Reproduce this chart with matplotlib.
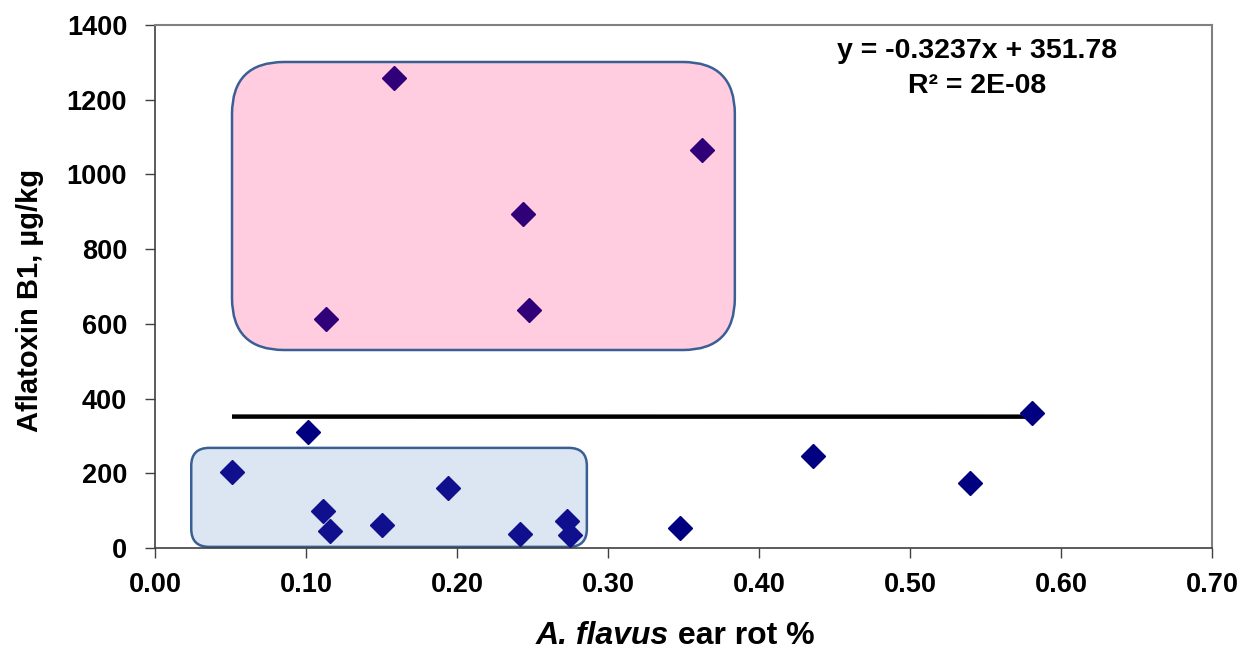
import matplotlib
matplotlib.use("Agg")
import matplotlib.pyplot as plt
from matplotlib.patches import FancyBboxPatch
from matplotlib.offsetbox import TextArea, HPacker, AnchoredOffsetbox

# ---- data ----
x_high = [0.113, 0.158, 0.244, 0.248, 0.362]
y_high = [613, 1258, 894, 637, 1065]
x_low = [0.051, 0.111, 0.116, 0.150, 0.194, 0.242, 0.273, 0.275]
y_low = [203, 99, 45, 62, 161, 37, 72, 35]
x_other = [0.101, 0.348, 0.436, 0.540, 0.581]
y_other = [310, 54, 246, 174, 361]
slope, intercept = -0.3237, 351.78
trend_x = [0.051, 0.581]
eq_text = "y = -0.3237x + 351.78"
r2_text = "R² = 2E-08"
xticks = [0.0, 0.1, 0.2, 0.3, 0.4, 0.5, 0.6, 0.7]
yticks = [0, 200, 400, 600, 800, 1000, 1200, 1400]
box_high = (0.051, 530, 0.384, 1301)
box_low = (0.024, 3, 0.286, 268)

base = "Liberation Sans"

fig = plt.figure(figsize=(12.41, 6.56), dpi=100)
ax = fig.add_axes([155/1241, 1-548/656, (1212-155)/1241, (548-25)/656])
ax.set_xlim(0, 0.7)
ax.set_ylim(0, 1400)

# aspect for rounded corners
fig.canvas.draw()
p0 = ax.transData.transform((0, 0))
p1 = ax.transData.transform((1, 1))
xpp = 1/(p1[0]-p0[0])
ypp = 1/(p1[1]-p0[1])
aspect = ypp/xpp

def rbox(b, r_px, fc):
    x0, y0, x1, y1 = b
    patch = FancyBboxPatch((x0, y0), x1-x0, y1-y0,
                           boxstyle=f"round,pad=0,rounding_size={r_px*xpp}",
                           mutation_aspect=aspect, fc=fc, ec="#3A5F94", lw=1.8,
                           zorder=1, clip_on=False)
    ax.add_patch(patch)

rbox(box_high, 52, "#FFCCE0")
rbox(box_low, 18, "#DCE6F2")

ax.plot(trend_x, [slope*v + intercept for v in trend_x], color="black", lw=3.2, zorder=2,
        solid_capstyle="butt")
ax.plot(x_other, y_other, "D", ms=12, color="#000080", mec="#000080", zorder=3)
ax.plot(x_low, y_low, "D", ms=12, color="#10108F", mec="#10108F", zorder=3)
ax.plot(x_high, y_high, "D", ms=12, color="#300078", mec="#300078", zorder=3)

ax.text(977, 656-58, eq_text, transform=None, ha="center", va="baseline",
        fontsize=20.5, fontweight="bold", family=base)
ax.text(977, 656-93, r2_text, transform=None, ha="center", va="baseline",
        fontsize=20.5, fontweight="bold", family=base)

ax.set_xticks(xticks)
ax.set_yticks(yticks)
ax.set_xticklabels([f"{v:.2f}" for v in xticks], fontsize=19.5, fontweight="bold", family=base)
ax.set_yticklabels([str(v) for v in yticks], fontsize=19.5, fontweight="bold", family=base)
ax.tick_params(axis="x", direction="out", length=7, width=1, pad=10, color="#404040")
ax.tick_params(axis="y", direction="out", length=7, width=1, pad=13, color="#404040")

for s in ["left", "bottom"]:
    ax.spines[s].set_color("#404040")
    ax.spines[s].set_linewidth(1.2)
for s in ["top", "right"]:
    ax.spines[s].set_color("#808080")
    ax.spines[s].set_linewidth(1.5)

t1 = TextArea("A. flavus", textprops=dict(fontsize=23, fontweight="bold", fontstyle="italic", family=base))
t2 = TextArea(" ear rot %", textprops=dict(fontsize=23, fontweight="bold", family=base))
pack = HPacker(children=[t1, t2], align="baseline", pad=0, sep=0)
ab = AnchoredOffsetbox(loc="center", child=pack, bbox_to_anchor=(675/1241, 1-636/656),
                       bbox_transform=fig.transFigure, frameon=False, pad=0, borderpad=0)
fig.add_artist(ab)

fig.text(30/1241, 1-300/656, "Aflatoxin B1, µg/kg", rotation=90, ha="center", va="center",
         fontsize=21, fontweight="bold", family=base)

fig.savefig("out.png", dpi=100)
